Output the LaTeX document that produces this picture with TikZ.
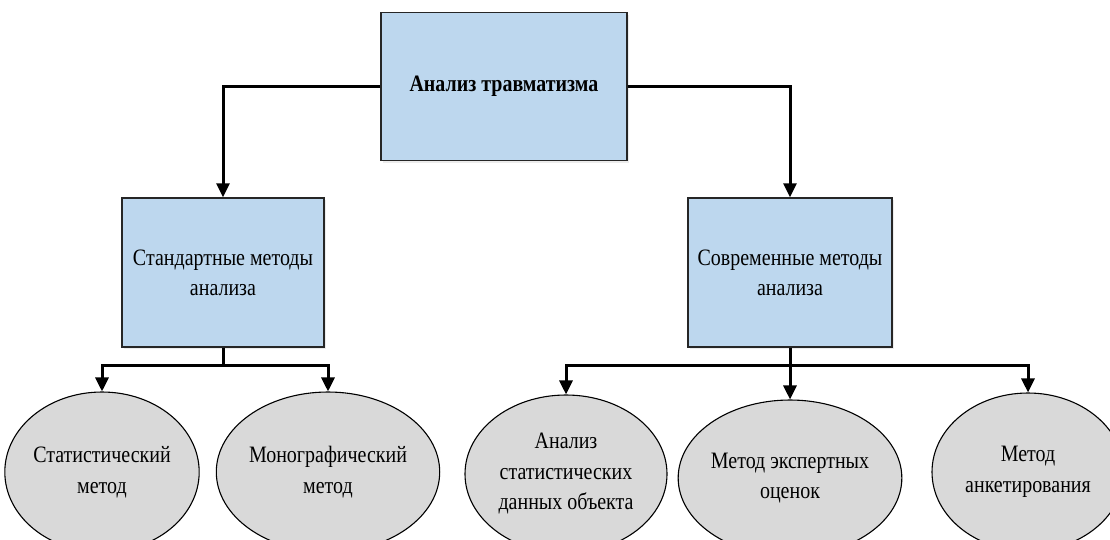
\documentclass[tikz,border=0pt]{standalone}
\usepackage{fontspec}
\setmainfont{Liberation Serif}[FakeStretch=0.85]
\usetikzlibrary{arrows.meta,shapes.geometric,shadows}
\definecolor{boxblue}{HTML}{BDD7EE}
\definecolor{ovalgray}{HTML}{D9D9D9}
\definecolor{edgegray}{HTML}{262626}
\begin{document}
\begin{tikzpicture}[x=1pt,y=-1pt,
  boxnode/.style={draw=edgegray,line width=1.4pt,fill=boxblue,rectangle,inner sep=0pt,
    align=center,font=\fontsize{23.5}{30}\selectfont,
    drop shadow={opacity=0.15,shadow xshift=2pt,shadow yshift=-2pt}},
  ovalnode/.style={draw=black,line width=1.1pt,fill=ovalgray,ellipse,inner sep=0pt,
    align=center,font=\fontsize{23.5}{30.5}\selectfont},
  conn/.style={line width=3pt,draw=black},
  arr/.style={conn,-{Triangle[length=14pt,width=13pt]}}]
\clip (0,0) rectangle (1110,539);
\fill[white] (0,0) rectangle (1110,539);

\node[boxnode,minimum width=246pt,minimum height=148pt,font=\bfseries\fontsize{23.5}{30}\selectfont] (top) at (504,86.5) {Анализ травматизма};
\node[boxnode,minimum width=202pt,minimum height=149pt] (std) at (223,272.5) {Стандартные методы\\анализа};
\node[boxnode,minimum width=204pt,minimum height=149pt] (mod) at (790,272.5) {Современные методы\\анализа};

\node[ovalnode,minimum width=180pt,minimum height=160pt] (e1) at (102,472) {Статистический\\метод};
\node[ovalnode,minimum width=188pt,minimum height=160pt] (e2) at (328,472) {Монографический\\метод};
\node[ovalnode,minimum width=202pt,minimum height=158pt] (e3) at (566,474) {Анализ\\статистических\\данных объекта};
\node[ovalnode,minimum width=194pt,minimum height=156pt] (e4) at (790,478) {Метод экспертных\\оценок};
\node[ovalnode,minimum width=192pt,minimum height=158pt] (e5) at (1028,472) {Метод\\анкетирования};

\coordinate (lbar) at (223,365);
\coordinate (rbar) at (790,365);

\draw[arr] (top.west) -| (std.north);
\draw[arr] (top.east) -| (mod.north);

\draw[conn] (std.south) -- (lbar);
\draw[arr] (lbar) -| (e1.north);
\draw[arr] (lbar) -| (e2.north);

\draw[conn] (mod.south) -- (rbar);
\draw[arr] (rbar) -| (e3.north);
\draw[arr] (rbar) -- (e4.north);
\draw[arr] (rbar) -| (e5.north);
\end{tikzpicture}
\end{document}
